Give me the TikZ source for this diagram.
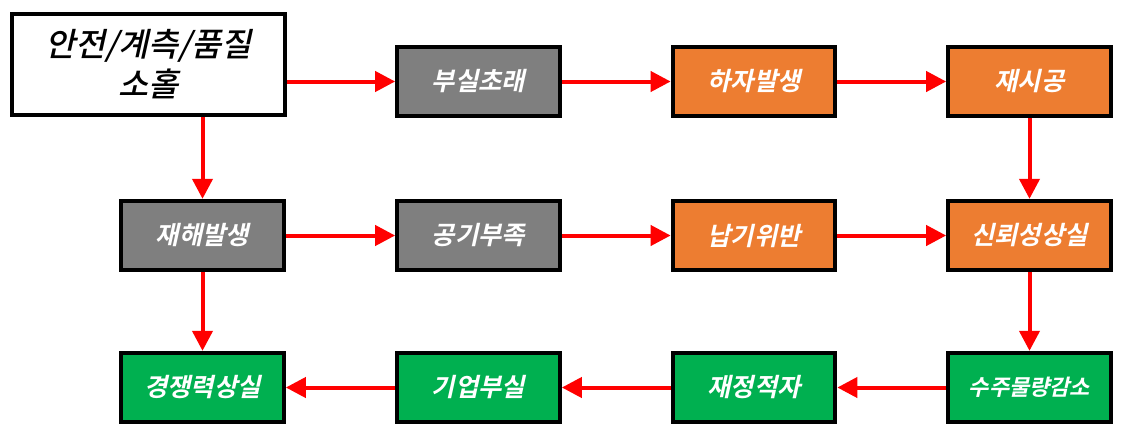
\documentclass[tikz,border=0pt]{standalone}
\usepackage{fontspec}
\newfontfamily\krfont[FakeSlant=0.22]{Noto Sans CJK KR Bold}
\newfontfamily\krlight[FakeSlant=0.22]{Noto Sans CJK KR Medium}
\usepackage{tikz}
\usetikzlibrary{positioning,arrows.meta,calc}
\definecolor{boxgray}{HTML}{7F7F7F}
\definecolor{boxorange}{HTML}{ED7D31}
\definecolor{boxgreen}{HTML}{00B050}
\tikzset{
	box/.style={draw=black,line width=3pt,minimum width=122pt,minimum height=52pt,inner sep=0pt,text=white,font=\krfont\fontsize{19}{22}\selectfont},
	startbox/.style={box,fill=white,text=black,minimum width=205pt,minimum height=76pt,align=center,font=\krlight\fontsize{24.5}{30}\selectfont},
	graybox/.style={box,fill=boxgray},
	orangebox/.style={box,fill=boxorange},
	greenbox/.style={box,fill=boxgreen},
	flow/.style={-{Triangle[width=15pt,length=15pt]},draw=red,line width=3pt}
}
\begin{document}
\begin{tikzpicture}[x=0.75pt,y=-0.75pt]
	\useasboundingbox (0,0) rectangle (1133,430);
	%%%first row
	\node[startbox] (sohol) at (148.5,64.5) {안전/계측/품질\\소홀};
	\node[graybox] (busil) at (478.5,81.5) {부실초래};
	\node[orangebox] (haja) at (754,81.5) {하자발생};
	\node[orangebox] (jaesi) at (1029.5,81.5) {재시공};
	%%%second row
	\node[graybox] (jaehae) at (202.5,235.5) {재해발생};
	\node[graybox] (gonggi) at (478.5,235.5) {공기부족};
	\node[orangebox] (napgi) at (754,235.5) {납기위반};
	\node[orangebox] (sinroe) at (1029.5,235.5) {신뢰성상실};
	%%%third row
	\node[greenbox] (gyeong) at (202.5,387.5) {경쟁력상실};
	\node[greenbox] (gieop) at (478.5,387.5) {기업부실};
	\node[greenbox] (jaejeong) at (754,387.5) {재정적자};
	\node[greenbox,font=\krfont\fontsize{16.5}{20}\selectfont] (suju) at (1029.5,387.5) {수주물량감소};
	%%%arrows
	\draw[flow] (busil.west -| sohol.east) -- (busil);
	\draw[flow] (jaehae.north |- sohol.south) -- (jaehae);
	\draw[flow] (busil) -- (haja);
	\draw[flow] (haja) -- (jaesi);
	\draw[flow] (jaesi) -- (sinroe);
	\draw[flow] (jaehae) -- (gonggi);
	\draw[flow] (gonggi) -- (napgi);
	\draw[flow] (napgi) -- (sinroe);
	\draw[flow] (jaehae) -- (gyeong);
	\draw[flow] (sinroe) -- (suju);
	\draw[flow] (suju) -- (jaejeong);
	\draw[flow] (jaejeong) -- (gieop);
	\draw[flow] (gieop) -- (gyeong);
\end{tikzpicture}
\end{document}
